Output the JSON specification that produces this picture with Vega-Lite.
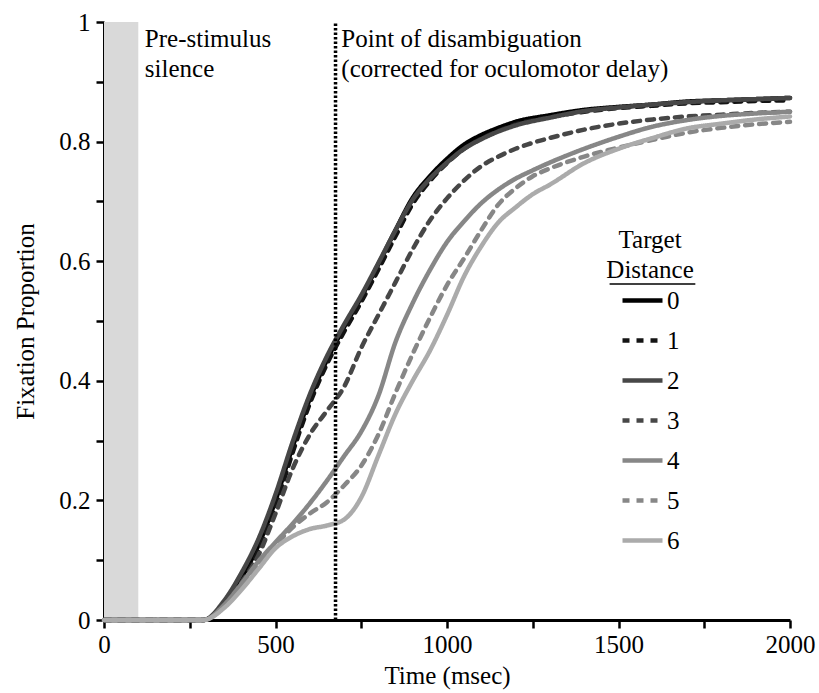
{
  "$schema": "https://vega.github.io/schema/vega-lite/v6.json",
  "width": 686,
  "height": 598,
  "autosize": "none",
  "padding": {"left": 104, "top": 22, "right": 29, "bottom": 73},
  "background": "white",
  "config": {
    "view": {"stroke": null},
    "font": "Liberation Serif",
    "text": {"font": "Liberation Serif", "fontSize": 25, "color": "black"},
    "axis": {
      "grid": false,
      "domainColor": "black",
      "domainWidth": 3,
      "tickColor": "black",
      "tickWidth": 2.5,
      "tickSize": 8,
      "labelFont": "Liberation Serif",
      "labelFontSize": 25,
      "labelColor": "black",
      "titleFont": "Liberation Serif",
      "titleFontSize": 25,
      "titleFontWeight": "normal",
      "titleColor": "black"
    },
    "legend": {
      "orient": "none",
      "legendX": 516,
      "legendY": 256,
      "symbolType": "stroke",
      "symbolSize": 1600,
      "symbolStrokeWidth": 4.5,
      "labelFont": "Liberation Serif",
      "labelFontSize": 25,
      "labelColor": "black",
      "rowPadding": 4,
      "labelOffset": 2
    }
  },
  "datasets": {
    "curves": [
      {"d":"0","t":0,"p":0},{"d":"0","t":290,"p":0},{"d":"0","t":350,"p":0.028},{"d":"0","t":400,"p":0.07},{"d":"0","t":450,"p":0.125},{"d":"0","t":500,"p":0.2},{"d":"0","t":550,"p":0.29},{"d":"0","t":600,"p":0.37},{"d":"0","t":650,"p":0.435},{"d":"0","t":700,"p":0.49},{"d":"0","t":750,"p":0.54},{"d":"0","t":800,"p":0.595},{"d":"0","t":850,"p":0.652},{"d":"0","t":900,"p":0.706},{"d":"0","t":950,"p":0.742},{"d":"0","t":1000,"p":0.771},{"d":"0","t":1050,"p":0.795},{"d":"0","t":1100,"p":0.811},{"d":"0","t":1150,"p":0.823},{"d":"0","t":1200,"p":0.833},{"d":"0","t":1300,"p":0.844},{"d":"0","t":1400,"p":0.853},{"d":"0","t":1500,"p":0.858},{"d":"0","t":1600,"p":0.862},{"d":"0","t":1700,"p":0.867},{"d":"0","t":1800,"p":0.869},{"d":"0","t":1900,"p":0.871},{"d":"0","t":2000,"p":0.873},
      {"d":"1","t":0,"p":0},{"d":"1","t":290,"p":0},{"d":"1","t":350,"p":0.025},{"d":"1","t":400,"p":0.062},{"d":"1","t":450,"p":0.115},{"d":"1","t":500,"p":0.19},{"d":"1","t":550,"p":0.28},{"d":"1","t":600,"p":0.362},{"d":"1","t":650,"p":0.428},{"d":"1","t":700,"p":0.482},{"d":"1","t":750,"p":0.532},{"d":"1","t":800,"p":0.586},{"d":"1","t":850,"p":0.642},{"d":"1","t":900,"p":0.696},{"d":"1","t":950,"p":0.734},{"d":"1","t":1000,"p":0.764},{"d":"1","t":1050,"p":0.788},{"d":"1","t":1100,"p":0.805},{"d":"1","t":1150,"p":0.818},{"d":"1","t":1200,"p":0.829},{"d":"1","t":1300,"p":0.841},{"d":"1","t":1400,"p":0.85},{"d":"1","t":1500,"p":0.856},{"d":"1","t":1600,"p":0.86},{"d":"1","t":1700,"p":0.864},{"d":"1","t":1800,"p":0.866},{"d":"1","t":1900,"p":0.868},{"d":"1","t":2000,"p":0.869},
      {"d":"2","t":0,"p":0},{"d":"2","t":290,"p":0},{"d":"2","t":350,"p":0.032},{"d":"2","t":400,"p":0.078},{"d":"2","t":450,"p":0.135},{"d":"2","t":500,"p":0.21},{"d":"2","t":550,"p":0.298},{"d":"2","t":600,"p":0.377},{"d":"2","t":650,"p":0.441},{"d":"2","t":700,"p":0.494},{"d":"2","t":750,"p":0.543},{"d":"2","t":800,"p":0.597},{"d":"2","t":850,"p":0.652},{"d":"2","t":900,"p":0.703},{"d":"2","t":950,"p":0.738},{"d":"2","t":1000,"p":0.765},{"d":"2","t":1050,"p":0.788},{"d":"2","t":1100,"p":0.804},{"d":"2","t":1150,"p":0.817},{"d":"2","t":1200,"p":0.827},{"d":"2","t":1300,"p":0.84},{"d":"2","t":1400,"p":0.851},{"d":"2","t":1500,"p":0.857},{"d":"2","t":1600,"p":0.862},{"d":"2","t":1700,"p":0.866},{"d":"2","t":1800,"p":0.869},{"d":"2","t":1900,"p":0.871},{"d":"2","t":2000,"p":0.873},
      {"d":"3","t":0,"p":0},{"d":"3","t":290,"p":0},{"d":"3","t":350,"p":0.025},{"d":"3","t":400,"p":0.062},{"d":"3","t":450,"p":0.108},{"d":"3","t":500,"p":0.178},{"d":"3","t":550,"p":0.253},{"d":"3","t":600,"p":0.31},{"d":"3","t":650,"p":0.35},{"d":"3","t":700,"p":0.39},{"d":"3","t":750,"p":0.455},{"d":"3","t":800,"p":0.51},{"d":"3","t":850,"p":0.565},{"d":"3","t":900,"p":0.62},{"d":"3","t":950,"p":0.668},{"d":"3","t":1000,"p":0.705},{"d":"3","t":1050,"p":0.735},{"d":"3","t":1100,"p":0.759},{"d":"3","t":1150,"p":0.775},{"d":"3","t":1200,"p":0.788},{"d":"3","t":1250,"p":0.798},{"d":"3","t":1300,"p":0.806},{"d":"3","t":1400,"p":0.82},{"d":"3","t":1500,"p":0.83},{"d":"3","t":1600,"p":0.837},{"d":"3","t":1700,"p":0.842},{"d":"3","t":1800,"p":0.845},{"d":"3","t":1900,"p":0.848},{"d":"3","t":2000,"p":0.85},
      {"d":"4","t":0,"p":0},{"d":"4","t":290,"p":0},{"d":"4","t":350,"p":0.025},{"d":"4","t":400,"p":0.06},{"d":"4","t":450,"p":0.098},{"d":"4","t":500,"p":0.13},{"d":"4","t":550,"p":0.161},{"d":"4","t":600,"p":0.195},{"d":"4","t":650,"p":0.233},{"d":"4","t":700,"p":0.274},{"d":"4","t":750,"p":0.315},{"d":"4","t":800,"p":0.375},{"d":"4","t":850,"p":0.465},{"d":"4","t":900,"p":0.53},{"d":"4","t":950,"p":0.585},{"d":"4","t":1000,"p":0.632},{"d":"4","t":1050,"p":0.667},{"d":"4","t":1100,"p":0.697},{"d":"4","t":1150,"p":0.72},{"d":"4","t":1200,"p":0.738},{"d":"4","t":1250,"p":0.752},{"d":"4","t":1300,"p":0.765},{"d":"4","t":1400,"p":0.788},{"d":"4","t":1500,"p":0.808},{"d":"4","t":1600,"p":0.825},{"d":"4","t":1700,"p":0.836},{"d":"4","t":1800,"p":0.843},{"d":"4","t":1900,"p":0.847},{"d":"4","t":2000,"p":0.85},
      {"d":"5","t":0,"p":0},{"d":"5","t":290,"p":0},{"d":"5","t":350,"p":0.022},{"d":"5","t":400,"p":0.055},{"d":"5","t":450,"p":0.092},{"d":"5","t":500,"p":0.125},{"d":"5","t":550,"p":0.155},{"d":"5","t":600,"p":0.178},{"d":"5","t":650,"p":0.197},{"d":"5","t":700,"p":0.225},{"d":"5","t":750,"p":0.258},{"d":"5","t":800,"p":0.31},{"d":"5","t":850,"p":0.38},{"d":"5","t":900,"p":0.445},{"d":"5","t":950,"p":0.505},{"d":"5","t":1000,"p":0.56},{"d":"5","t":1050,"p":0.605},{"d":"5","t":1100,"p":0.652},{"d":"5","t":1150,"p":0.695},{"d":"5","t":1200,"p":0.722},{"d":"5","t":1250,"p":0.742},{"d":"5","t":1300,"p":0.755},{"d":"5","t":1400,"p":0.775},{"d":"5","t":1500,"p":0.79},{"d":"5","t":1600,"p":0.803},{"d":"5","t":1700,"p":0.815},{"d":"5","t":1800,"p":0.823},{"d":"5","t":1900,"p":0.829},{"d":"5","t":2000,"p":0.833},
      {"d":"6","t":0,"p":0},{"d":"6","t":290,"p":0},{"d":"6","t":350,"p":0.02},{"d":"6","t":400,"p":0.05},{"d":"6","t":450,"p":0.085},{"d":"6","t":500,"p":0.12},{"d":"6","t":550,"p":0.14},{"d":"6","t":600,"p":0.152},{"d":"6","t":650,"p":0.158},{"d":"6","t":700,"p":0.168},{"d":"6","t":750,"p":0.205},{"d":"6","t":800,"p":0.275},{"d":"6","t":850,"p":0.345},{"d":"6","t":900,"p":0.4},{"d":"6","t":950,"p":0.45},{"d":"6","t":1000,"p":0.51},{"d":"6","t":1050,"p":0.575},{"d":"6","t":1100,"p":0.625},{"d":"6","t":1150,"p":0.665},{"d":"6","t":1200,"p":0.69},{"d":"6","t":1250,"p":0.712},{"d":"6","t":1300,"p":0.728},{"d":"6","t":1400,"p":0.764},{"d":"6","t":1500,"p":0.788},{"d":"6","t":1600,"p":0.806},{"d":"6","t":1700,"p":0.822},{"d":"6","t":1800,"p":0.83},{"d":"6","t":1900,"p":0.837},{"d":"6","t":2000,"p":0.842}
    ],
    "one": [{}]
  },
  "layer": [
    {
      "data": {"values": [{"start": 0, "end": 100}]},
      "mark": {"type": "rect", "color": "#d9d9d9"},
      "encoding": {
        "x": {"field": "start", "type": "quantitative", "scale": {"domain": [0, 2000]},
          "axis": {"values": [0,250,500,750,1000,1250,1500,1750,2000], "labelExpr": "datum.value % 500 === 0 ? datum.label : ''", "title": "Time  (msec)", "labelPadding": 4, "titlePadding": 6, "labelFlush": false, "format": "d"}},
        "x2": {"field": "end"},
        "y": {"datum": 0, "type": "quantitative", "scale": {"domain": [0, 1]},
          "axis": {"values": [0,0.1,0.2,0.3,0.4,0.5,0.6,0.7,0.8,0.9,1], "labelExpr": "round(datum.value*10) % 2 === 0 ? datum.label : ''", "format": "~g", "title": "Fixation  Proportion", "labelPadding": 6, "titlePadding": 20, "labelFlush": false}},
        "y2": {"datum": 1}
      }
    },
    {
      "data": {"name": "curves"},
      "mark": {"type": "line", "strokeWidth": 4.5, "strokeCap": "round", "strokeJoin": "round", "interpolate": "monotone"},
      "encoding": {
        "x": {"field": "t", "type": "quantitative"},
        "y": {"field": "p", "type": "quantitative"},
        "color": {"field": "d", "type": "nominal", "scale": {"domain": ["0","1","2","3","4","5","6"], "range": ["#000000","#141414","#474747","#474747","#878787","#878787","#ababab"]},
          "legend": {"title": null}},
        "strokeDash": {"field": "d", "type": "nominal", "scale": {"domain": ["0","1","2","3","4","5","6"], "range": [[1,0],[7,7],[1,0],[7,7],[1,0],[7,7],[1,0]]}},
        "order": {"field": "t", "type": "quantitative"}
      }
    },
    {
      "data": {"values": [{"t": 675}]},
      "mark": {"type": "rule", "color": "black", "strokeWidth": 3.5, "strokeDash": [2.5, 2]},
      "encoding": {"x": {"field": "t", "type": "quantitative"}, "y": {"datum": 0}, "y2": {"datum": 1}}
    },
    {
      "data": {"name": "one"},
      "mark": {"type": "text", "align": "left", "baseline": "middle", "font": "Liberation Serif", "fontSize": 25},
      "encoding": {"x": {"datum": 119}, "y": {"datum": 0.972}, "text": {"value": "Pre-stimulus"}}
    },
    {
      "data": {"name": "one"},
      "mark": {"type": "text", "align": "left", "baseline": "middle", "font": "Liberation Serif", "fontSize": 25},
      "encoding": {"x": {"datum": 119}, "y": {"datum": 0.922}, "text": {"value": "silence"}}
    },
    {
      "data": {"name": "one"},
      "mark": {"type": "text", "align": "left", "baseline": "middle", "font": "Liberation Serif", "fontSize": 25},
      "encoding": {"x": {"datum": 692}, "y": {"datum": 0.972}, "text": {"value": "Point of disambiguation"}}
    },
    {
      "data": {"name": "one"},
      "mark": {"type": "text", "align": "left", "baseline": "middle", "font": "Liberation Serif", "fontSize": 25},
      "encoding": {"x": {"datum": 692}, "y": {"datum": 0.922}, "text": {"value": "(corrected  for  oculomotor  delay)"}}
    },
    {
      "data": {"name": "one"},
      "mark": {"type": "text", "align": "center", "baseline": "middle", "font": "Liberation Serif", "fontSize": 25},
      "encoding": {"x": {"datum": 1592}, "y": {"datum": 0.635}, "text": {"value": "Target"}}
    },
    {
      "data": {"name": "one"},
      "mark": {"type": "text", "align": "center", "baseline": "middle", "font": "Liberation Serif", "fontSize": 25},
      "encoding": {"x": {"datum": 1592}, "y": {"datum": 0.585}, "text": {"value": "Distance"}}
    },
    {
      "data": {"name": "one"},
      "mark": {"type": "rule", "color": "black", "strokeWidth": 1.5},
      "encoding": {"x": {"datum": 1474}, "x2": {"datum": 1724}, "y": {"datum": 0.562}}
    }
  ]
}
